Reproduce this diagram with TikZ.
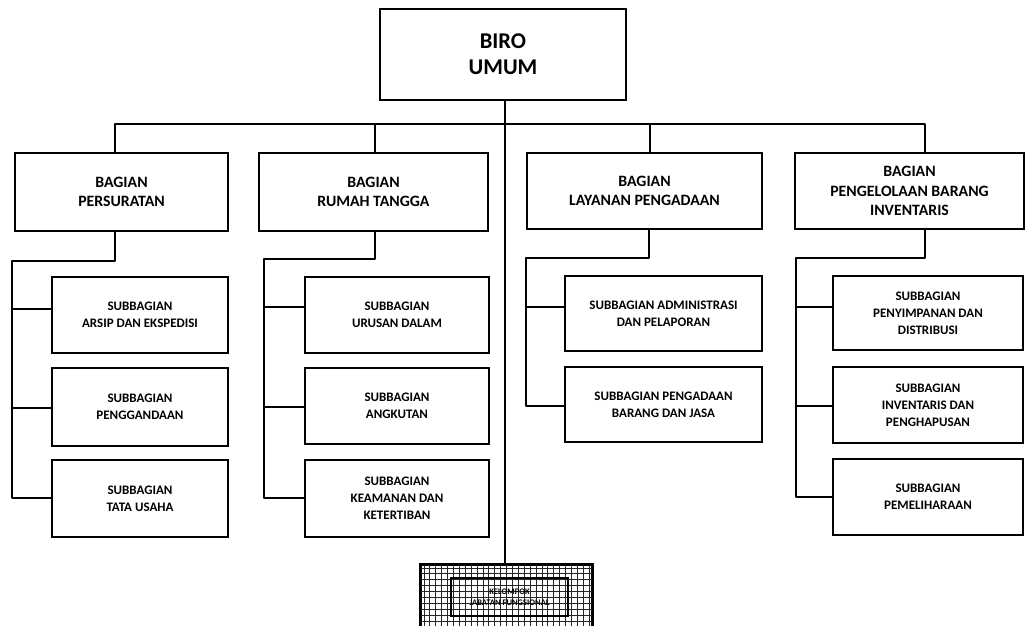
\documentclass[tikz,border=0pt]{standalone}
\usepackage{fontspec}
\setmainfont{Carlito}
\begin{document}
\begin{tikzpicture}[x=1pt,y=-1pt,
  box/.style={draw=black,line width=1.8pt,fill=white,align=center,inner sep=0pt,font=\bfseries},
  topfont/.style={font=\bfseries\fontsize{22.5}{26}\selectfont},
  bagfont/.style={font=\bfseries\fontsize{15.8}{19.5}\selectfont},
  subfont/.style={font=\bfseries\fontsize{13}{16.8}\selectfont},
  conn/.style={draw=black,line width=1.8pt,line cap=round,line join=round},
  gridline/.style={draw=black!85,line width=1pt}]
\useasboundingbox (0,0) rectangle (1026,625);
\clip (0,0) rectangle (1026,625);
% head
\node[box,topfont,minimum width=246pt,minimum height=91pt] (biro) at (503,54.5) {BIRO\\UMUM};
% bagian
\node[box,bagfont,minimum width=213pt,minimum height=78pt] (bp) at (121.5,192) {BAGIAN\\PERSURATAN};
\node[box,bagfont,minimum width=229pt,minimum height=78pt] (br) at (373.5,192) {BAGIAN\\RUMAH TANGGA};
\node[box,bagfont,minimum width=235pt,minimum height=76pt] (bl) at (644.5,191) {BAGIAN\\LAYANAN PENGADAAN};
\node[box,bagfont,minimum width=229pt,minimum height=76pt] (bi) at (909.5,191) {BAGIAN\\PENGELOLAAN BARANG\\INVENTARIS};
% sub persuratan
\node[box,subfont,minimum width=176pt,minimum height=76pt] (p1) at (140,315) {SUBBAGIAN\\ARSIP DAN EKSPEDISI};
\node[box,subfont,minimum width=176pt,minimum height=78pt] (p2) at (140,407) {SUBBAGIAN\\PENGGANDAAN};
\node[box,subfont,minimum width=176pt,minimum height=77pt] (p3) at (140,498.5) {SUBBAGIAN\\TATA USAHA};
% sub rumah tangga
\node[box,subfont,minimum width=184pt,minimum height=76pt] (r1) at (397,315) {SUBBAGIAN\\URUSAN DALAM};
\node[box,subfont,minimum width=184pt,minimum height=76pt] (r2) at (397,406) {SUBBAGIAN\\ANGKUTAN};
\node[box,subfont,minimum width=184pt,minimum height=77pt] (r3) at (397,498.5) {SUBBAGIAN\\KEAMANAN DAN\\KETERTIBAN};
% sub layanan
\node[box,subfont,minimum width=197pt,minimum height=75pt] (l1) at (663.5,313.5) {SUBBAGIAN ADMINISTRASI\\DAN PELAPORAN};
\node[box,subfont,minimum width=197pt,minimum height=75pt] (l2) at (663.5,404.5) {SUBBAGIAN PENGADAAN\\BARANG DAN JASA};
% sub pengelolaan
\node[box,subfont,minimum width=190pt,minimum height=74pt] (i1) at (928,313) {SUBBAGIAN\\PENYIMPANAN DAN\\DISTRIBUSI};
\node[box,subfont,minimum width=190pt,minimum height=76pt] (i2) at (928,405) {SUBBAGIAN\\INVENTARIS DAN\\PENGHAPUSAN};
\node[box,subfont,minimum width=190pt,minimum height=76pt] (i3) at (928,497) {SUBBAGIAN\\PEMELIHARAAN};
% kelompok jabatan fungsional
\node[draw=black,line width=1.8pt,minimum width=171pt,minimum height=75pt,inner sep=0pt] (kf) at (506.5,602.5) {};
\begin{scope}
  \clip (kf.north west) rectangle (kf.south east);
  \foreach \gx in {0,...,30} {\draw[gridline] (424+5.9*\gx,560) -- (424+5.9*\gx,640);}
  \foreach \gy in {0,...,12} {\draw[gridline] (415,568+5.9*\gy) -- (600,568+5.9*\gy);}
\end{scope}
\node[draw=black,line width=1.8pt,minimum width=117pt,minimum height=38pt,inner sep=0pt,align=center,font=\bfseries\fontsize{8.5}{11}\selectfont] (kfi) at (509.5,597) {KELOMPOK\\JABATAN FUNGSIONAL};
\draw[draw=black,line width=1.8pt] (kf.north west) rectangle (kf.south east);
% coordinates of the main bus
\coordinate (bus) at (505,124);
% main connectors
\draw[conn] (biro.south -| bus) -- (kf.north -| bus);
\draw[conn] (bp.north -| 115,0) -- (115,124) -- (925,124) -- (bi.north -| 925,0);
\draw[conn] (375,124) -- (br.north -| 375,0);
\draw[conn] (650,124) -- (bl.north -| 650,0);
% persuratan subs
\draw[conn] (bp.south -| 115,0) -- (115,261) -- (12,261) -- (12,498) -- (p3.west |- 0,498);
\draw[conn] (12,309) -- (p1.west |- 0,309);
\draw[conn] (12,408) -- (p2.west |- 0,408);
% rumah tangga subs
\draw[conn] (br.south -| 375,0) -- (375,259) -- (264,259) -- (264,498) -- (r3.west |- 0,498);
\draw[conn] (264,307) -- (r1.west |- 0,307);
\draw[conn] (264,407) -- (r2.west |- 0,407);
% layanan subs
\draw[conn] (bl.south -| 649,0) -- (649,258) -- (526,258) -- (526,406) -- (l2.west |- 0,406);
\draw[conn] (526,307) -- (l1.west |- 0,307);
% pengelolaan subs
\draw[conn] (bi.south -| 925,0) -- (925,258) -- (796,258) -- (796,497) -- (i3.west |- 0,497);
\draw[conn] (796,307) -- (i1.west |- 0,307);
\draw[conn] (796,406) -- (i2.west |- 0,406);
\end{tikzpicture}
\end{document}
